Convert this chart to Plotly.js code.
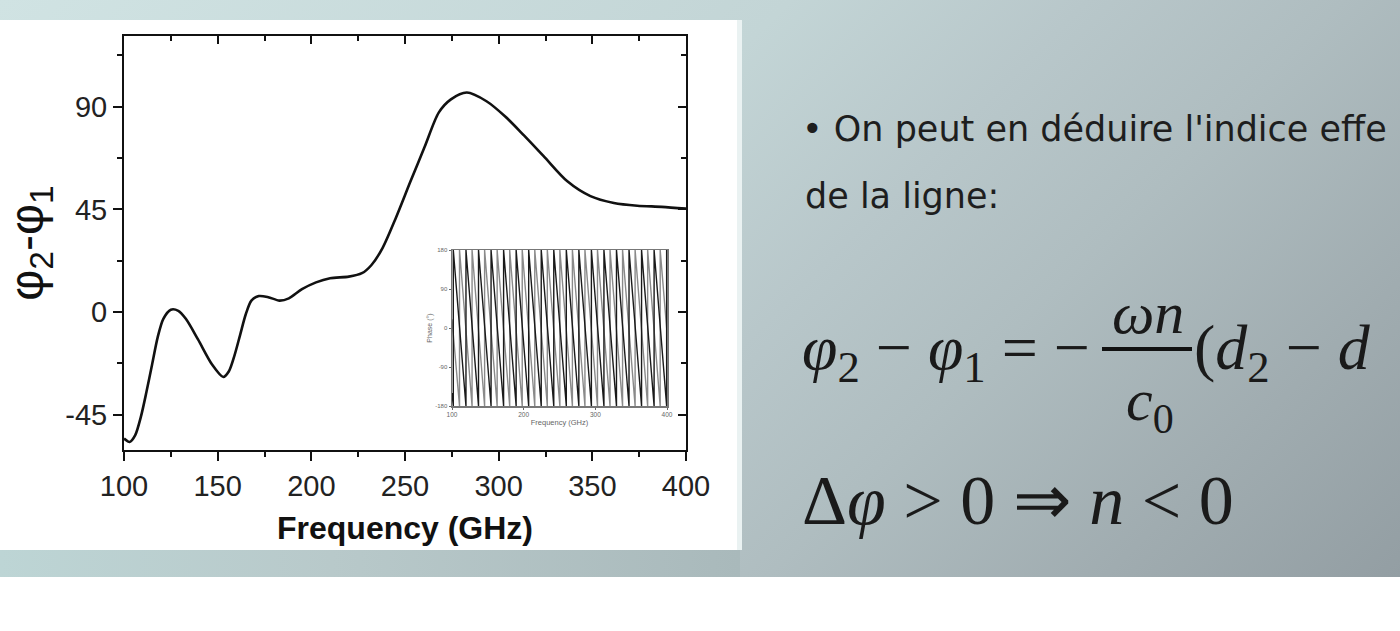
<!DOCTYPE html>
<html>
<head>
<meta charset="utf-8">
<script src="https://cdn.plot.ly/plotly-3.0.1.min.js"></script>
<style>
  html, body { margin: 0; padding: 0; overflow: hidden; background: #ffffff; }
  #wrap { position: relative; width: 1400px; height: 631px; background: #ffffff; overflow: hidden; }
  #bg { position: absolute; left: 0; top: 0; width: 1400px; height: 577px;
        background: linear-gradient(135deg, #d0e3e3 0%, #c3d5d6 40%, #b8c7ca 55%, #afbdc0 68%, #a0acb0 85%, #939ea3 100%); }
  #band { position: absolute; left: 0; top: 550px; width: 740px; height: 27px;
        background: linear-gradient(90deg, #bdd5d5 0%, #b8c9ca 45%, #a9b9bb 100%); }
  #strip { position: absolute; left: 0; top: 20px; width: 742px; height: 530px; background: #eaf2f2; }
  #panel { position: absolute; left: 0; top: 20px; width: 737px; height: 530px; background: #ffffff; }
  #plot { position: absolute; left: 0; top: 0; width: 1400px; height: 631px; }
</style>
</head>
<body>
<div id="wrap">
  <div id="bg"></div>
  <div id="band"></div>
  <div id="strip"></div>
  <div id="panel"></div>
  <div id="plot"></div>
</div>
<script>
// ---- main curve: phase difference vs frequency ----
const freq = [100, 103, 106, 109, 112, 115, 118, 121, 125, 129, 133, 139.5, 147, 153, 156, 159, 162, 165, 168, 172, 177, 183, 188, 195, 202.5, 210, 220, 227, 232, 238, 245, 253, 260.5, 268, 274.5, 283, 293.5, 303.5, 313.5, 324, 336.5, 349, 361.5, 374, 387, 400];
const phaseDiff = [-55.5, -57, -54, -46, -35, -23, -11, -3, 1, 0.5, -3, -12, -23, -28.5, -26, -19, -10, -1, 5, 7, 6.5, 5, 6, 10, 13, 14.8, 15.5, 17, 20.5, 28, 41, 57.4, 72.4, 87.4, 93.2, 96.2, 92.4, 85.7, 77.4, 68.3, 57.4, 50.8, 47.8, 46.6, 46.1, 45.3];

// ---- main axes ticks ----
const xTickVals = [100, 150, 200, 250, 300, 350, 400];
const xMinorVals = [125, 175, 225, 275, 325, 375];
const yTickVals = [-45, 0, 45, 90];
const yTickText = ['-45', '0', '45', '90'];
const yMinorVals = [-22.5, 22.5, 67.5, 112.5];

// ---- inset: wrapped phases (frequencies where each trace wraps) ----
const insetWrapsA = [101.8, 119.5, 137, 154.5, 172, 189.5, 207, 224.5, 242, 259.5, 277, 294.5, 312, 329.5, 347, 364.5, 382, 399.5];
const insetStartA = -150;
const insetEndA = 170;
const insetWrapsB = [110.5, 128, 145.5, 163, 180.5, 198, 215.5, 233, 250.5, 268, 285.5, 303, 320.5, 338, 355.5, 373, 390.5];
const insetStartB = 20;
const insetEndB = -10;
const insetXTickVals = [100, 200, 300, 400];
const insetYTickVals = [-180, -90, 0, 90, 180];
const insetYTickText = ['-180', '-90', '0', '90', '180'];

function sawtooth(wraps, start, end) {
  const x = [100], y = [start];
  wraps.forEach(w => { x.push(w, w); y.push(-180, 180); });
  x.push(400); y.push(end);
  return {x, y};
}
const sA = sawtooth(insetWrapsA, insetStartA, insetEndA);
const sB = sawtooth(insetWrapsB, insetStartB, insetEndB);

// pixel helpers for page text placement (plot area: x 124..686, y 36..450)
const PL = 124, PR = 686, PT = 36, PB = 450;
const ax = px => (px - PL) / (PR - PL);
const ay = py => (PB - py) / (PB - PT);

const sans = 'Liberation Sans, Arial, sans-serif';
const wide = 'DejaVu Sans, Liberation Sans, sans-serif';
const serif = 'Liberation Serif, Times New Roman, serif';

const traces = [
  { x: freq, y: phaseDiff, type: 'scatter', mode: 'lines', line: { color: '#111', width: 2.6, shape: 'spline', smoothing: 0.8 }, xaxis: 'x', yaxis: 'y', hoverinfo: 'skip' },
  { x: freq, y: phaseDiff, type: 'scatter', mode: 'lines', line: { color: 'rgba(0,0,0,0)', width: 0 }, xaxis: 'x3', yaxis: 'y3', hoverinfo: 'skip' },
  { x: sB.x, y: sB.y, type: 'scatter', mode: 'lines', line: { color: '#8a8a8a', width: 1.4 }, xaxis: 'x2', yaxis: 'y2', hoverinfo: 'skip' },
  { x: sA.x, y: sA.y, type: 'scatter', mode: 'lines', line: { color: '#1a1a1a', width: 1.4 }, xaxis: 'x2', yaxis: 'y2', hoverinfo: 'skip' }
];

const tickFont = { family: sans, size: 29, color: '#222' };

const layout = {
  width: 1400, height: 631,
  margin: { l: PL, r: 1400 - PR, t: PT, b: 631 - PB, pad: 0 },
  paper_bgcolor: 'rgba(0,0,0,0)',
  plot_bgcolor: '#ffffff',
  showlegend: false,
  hovermode: false,
  xaxis: {
    range: [100, 400], tickmode: 'array', tickvals: xTickVals, ticks: 'outside', ticklen: 9, tickwidth: 2, tickcolor: '#111',
    showline: true, linecolor: '#111', linewidth: 2, mirror: true, showgrid: false, zeroline: false,
    tickfont: tickFont,
    minor: { tickmode: 'array', tickvals: xMinorVals, ticks: 'outside', ticklen: 5, tickwidth: 2, tickcolor: '#111', showgrid: false },
    title: { text: '<b>Frequency (GHz)</b>', font: { family: sans, size: 32, color: '#111' }, standoff: 16 }
  },
  yaxis: {
    range: [-60.5, 121], tickmode: 'array', tickvals: yTickVals, ticktext: yTickText, ticks: 'outside', ticklen: 9, tickwidth: 2, tickcolor: '#111',
    showline: true, linecolor: '#111', linewidth: 2, mirror: true, showgrid: false, zeroline: false,
    tickfont: tickFont,
    minor: { tickmode: 'array', tickvals: yMinorVals, ticks: 'outside', ticklen: 5, tickwidth: 2, tickcolor: '#111', showgrid: false },
    title: { text: 'φ<sub>2</sub>-φ<sub>1</sub>', font: { family: sans, size: 48, color: '#111' }, standoff: 10 }
  },
  xaxis3: {
    overlaying: 'x', side: 'top', anchor: 'y', range: [100, 400], tickmode: 'array', tickvals: xTickVals,
    ticks: 'inside', ticklen: 8, tickwidth: 2, tickcolor: '#111', showticklabels: false, showline: false, showgrid: false, zeroline: false,
    minor: { tickmode: 'array', tickvals: xMinorVals, ticks: 'inside', ticklen: 5, tickwidth: 2, tickcolor: '#111', showgrid: false }
  },
  yaxis3: {
    overlaying: 'y', side: 'right', anchor: 'x', range: [-60.5, 121], tickmode: 'array', tickvals: yTickVals,
    ticks: 'inside', ticklen: 8, tickwidth: 2, tickcolor: '#111', showticklabels: false, showline: false, showgrid: false, zeroline: false,
    minor: { tickmode: 'array', tickvals: yMinorVals, ticks: 'inside', ticklen: 5, tickwidth: 2, tickcolor: '#111', showgrid: false }
  },
  xaxis2: {
    domain: [ax(452), ax(667)], anchor: 'y2', range: [100, 400], tickmode: 'array', tickvals: insetXTickVals,
    ticks: 'outside', ticklen: 2, tickwidth: 1, tickcolor: '#666',
    showline: true, linecolor: '#777', linewidth: 1.5, mirror: true, showgrid: false, zeroline: false,
    tickfont: { family: sans, size: 6.5, color: '#666' },
    title: { text: 'Frequency (GHz)', font: { family: sans, size: 7.5, color: '#666' }, standoff: 2 }
  },
  yaxis2: {
    domain: [ay(406), ay(250)], anchor: 'x2', range: [-180, 180], tickmode: 'array', tickvals: insetYTickVals, ticktext: insetYTickText,
    ticks: 'outside', ticklen: 2, tickwidth: 1, tickcolor: '#666',
    showline: true, linecolor: '#777', linewidth: 1.5, mirror: true, showgrid: false, zeroline: false,
    tickfont: { family: sans, size: 6, color: '#666' },
    title: { text: 'Phase (°)', font: { family: sans, size: 7, color: '#666' }, standoff: 2 }
  },
  shapes: [
    { type: 'line', xref: 'paper', yref: 'paper', x0: ax(1102), x1: ax(1192), y0: ay(349), y1: ay(349), line: { color: '#111', width: 4 } }
  ],
  annotations: [
    { xref: 'paper', yref: 'paper', x: ax(800), y: ay(129), xanchor: 'left', yanchor: 'middle', showarrow: false,
      text: '• On peut en déduire l\'indice effe', font: { family: wide, size: 35, color: '#1e1e1e' } },
    { xref: 'paper', yref: 'paper', x: ax(803), y: ay(196), xanchor: 'left', yanchor: 'middle', showarrow: false,
      text: 'de la ligne:', font: { family: wide, size: 35, color: '#1e1e1e' } },
    { xref: 'paper', yref: 'paper', x: ax(800), y: ay(352), xanchor: 'left', yanchor: 'middle', showarrow: false,
      text: '<i>φ</i><sub>2</sub> − <i>φ</i><sub>1</sub> = −', font: { family: serif, size: 64, color: '#1a1a1a' } },
    { xref: 'paper', yref: 'paper', x: ax(1148), y: ay(313), xanchor: 'center', yanchor: 'middle', showarrow: false,
      text: '<i>ωn</i>', font: { family: serif, size: 60, color: '#1a1a1a' } },
    { xref: 'paper', yref: 'paper', x: ax(1150), y: ay(404), xanchor: 'center', yanchor: 'middle', showarrow: false,
      text: '<i>c</i><sub>0</sub>', font: { family: serif, size: 60, color: '#1a1a1a' } },
    { xref: 'paper', yref: 'paper', x: ax(1192), y: ay(352), xanchor: 'left', yanchor: 'middle', showarrow: false,
      text: '(<i>d</i><sub>2</sub> − <i>d</i>', font: { family: serif, size: 64, color: '#1a1a1a' } },
    { xref: 'paper', yref: 'paper', x: ax(800), y: ay(500), xanchor: 'left', yanchor: 'middle', showarrow: false,
      text: 'Δ<i>φ</i> > 0 ⇒ <i>n</i> < 0', font: { family: serif, size: 70, color: '#1a1a1a' } }
  ]
};

Plotly.newPlot('plot', traces, layout, { staticPlot: true, displayModeBar: false });
</script>
</body>
</html>
